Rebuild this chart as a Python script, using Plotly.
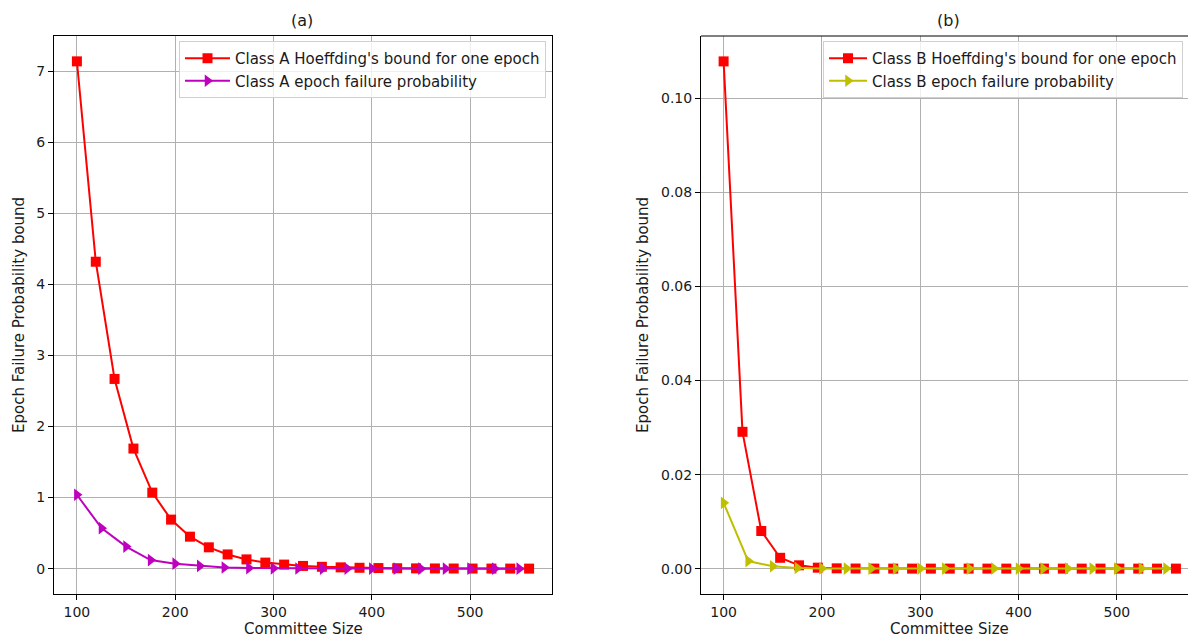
import plotly.graph_objects as go

# ---- data ----
committee_sq = [100.0, 119.2, 138.3, 157.5, 176.7, 195.8, 215.0, 234.2, 253.3, 272.5,
                291.7, 310.8, 330.0, 349.2, 368.3, 387.5, 406.7, 425.8, 445.0, 464.2,
                483.3, 502.5, 521.7, 540.8, 560.0]
committee_tri = [100, 125, 150, 175, 200, 225, 250, 275, 300, 325,
                 350, 375, 400, 425, 450, 475, 500, 525, 550]

a_hoeffding = [7.14, 4.32, 2.67, 1.69, 1.07, 0.69, 0.45, 0.30, 0.20, 0.13,
               0.085, 0.057, 0.038, 0.026, 0.018, 0.012, 0.008, 0.0055, 0.0038, 0.0026,
               0.0018, 0.0012, 0.0008, 0.0006, 0.0004]
a_failure = [1.04, 0.57, 0.31, 0.12, 0.07, 0.038, 0.016, 0.008, 0.004, 0.002,
             0.001, 0.0006, 0.0003, 0.0002, 0.0001, 0.00005, 0.00003, 0.00002, 0.00001]

b_hoeffding = [0.1079, 0.0291, 0.0080, 0.0023, 0.0007, 0.0002, 0.00006, 0.00002, 0.000006, 0.000002,
               0.0000006, 0.0000002, 0.0, 0.0, 0.0, 0.0, 0.0, 0.0, 0.0, 0.0,
               0.0, 0.0, 0.0, 0.0, 0.0]
b_failure = [0.0140, 0.0016, 0.0005, 0.00015, 0.00004, 0.00001, 0.000003, 0.000001, 0.0, 0.0,
             0.0, 0.0, 0.0, 0.0, 0.0, 0.0, 0.0, 0.0, 0.0]

titles = ["(a)", "(b)"]
x_label = "Committee Size"
y_label = "Epoch Failure Probability bound"

W, H = 1188, 640
FONT = "DejaVu Sans, sans-serif"
TXT = "#1a1a1a"

def px(x):
    return x / W

def py(y):
    return 1 - y / H

fig = go.Figure()

fig.add_trace(go.Scatter(x=committee_sq, y=a_hoeffding, mode="lines+markers",
                         name="Class A Hoeffding's bound for one epoch",
                         line=dict(color="#ff0000", width=2),
                         marker=dict(symbol="square", size=10, color="#ff0000"),
                         xaxis="x", yaxis="y", legend="legend"))
fig.add_trace(go.Scatter(x=committee_tri, y=a_failure, mode="lines+markers",
                         name="Class A epoch failure probability",
                         line=dict(color="#bf00bf", width=2),
                         marker=dict(symbol="triangle-right", size=11, color="#bf00bf"),
                         xaxis="x", yaxis="y", legend="legend"))
fig.add_trace(go.Scatter(x=committee_sq, y=b_hoeffding, mode="lines+markers",
                         name="Class B Hoeffding's bound for one epoch",
                         line=dict(color="#ff0000", width=2),
                         marker=dict(symbol="square", size=10, color="#ff0000"),
                         xaxis="x2", yaxis="y2", legend="legend2"))
fig.add_trace(go.Scatter(x=committee_tri, y=b_failure, mode="lines+markers",
                         name="Class B epoch failure probability",
                         line=dict(color="#bfbf00", width=2),
                         marker=dict(symbol="triangle-right", size=11, color="#bfbf00"),
                         xaxis="x2", yaxis="y2", legend="legend2"))

axis_common = dict(showgrid=True, gridcolor="#b0b0b0", gridwidth=1,
                   zeroline=False, showline=True, linecolor="#000000", linewidth=1,
                   ticks="outside", ticklen=5, tickcolor="#000000", tickwidth=1,
                   tickfont=dict(family=FONT, size=14, color=TXT))

y_top, y_bot = 36, 594

legend_common = dict(yanchor="top", bgcolor="rgba(255,255,255,0.8)",
                     bordercolor="#d0d0d0", borderwidth=1,
                     font=dict(family=FONT, size=15, color=TXT), tracegroupgap=0)

fig.update_layout(
    width=W, height=H,
    margin=dict(l=0, r=0, t=0, b=0, autoexpand=False),
    paper_bgcolor="white", plot_bgcolor="white",
    font=dict(family=FONT, color=TXT),
    xaxis=dict(domain=[px(54), px(552)], range=[76.7, 583.3], anchor="y",
               tickvals=[100, 200, 300, 400, 500], mirror=True, **axis_common),
    yaxis=dict(domain=[py(y_bot), py(y_top)], range=[-0.357, 7.497], anchor="x",
               tickvals=[0, 1, 2, 3, 4, 5, 6, 7], mirror=True, **axis_common),
    xaxis2=dict(domain=[px(701), 1.0], range=[77.0, 572.3], anchor="y2",
                tickvals=[100, 200, 300, 400, 500], mirror=False, **axis_common),
    yaxis2=dict(domain=[py(y_bot), py(y_top)], range=[-0.0054, 0.1133], anchor="x2",
                tickvals=[0, 0.02, 0.04, 0.06, 0.08, 0.10], tickformat=".2f",
                mirror=False, **axis_common),
    legend=dict(x=px(546), y=py(41), xanchor="right", itemwidth=45, **legend_common),
    legend2=dict(x=px(823), y=py(41), xanchor="left", itemwidth=38, **legend_common),
    showlegend=True,
)

# top frame line for the (cropped) right panel
fig.add_shape(type="line", xref="paper", yref="paper",
              x0=px(701), x1=1.0, y0=py(y_top), y1=py(y_top),
              line=dict(color="#000000", width=1))

annots = [
    dict(text=titles[0], x=px(302), y=py(20), size=16, angle=0),
    dict(text=titles[1], x=px(948), y=py(20), size=16, angle=0),
    dict(text=x_label, x=px(303), y=py(629), size=15, angle=0),
    dict(text=x_label, x=px(949), y=py(629), size=15, angle=0),
    dict(text=y_label, x=px(19), y=py(315), size=15, angle=-90),
    dict(text=y_label, x=px(643), y=py(315), size=15, angle=-90),
]
for a in annots:
    fig.add_annotation(text=a["text"], x=a["x"], y=a["y"], xref="paper", yref="paper",
                       xanchor="center", yanchor="middle", showarrow=False,
                       textangle=a["angle"], font=dict(family=FONT, size=a["size"], color=TXT))

fig.write_html("out.html", config={"displayModeBar": False},
               post_script="document.body.style.margin='0';document.body.style.overflow='hidden';")
